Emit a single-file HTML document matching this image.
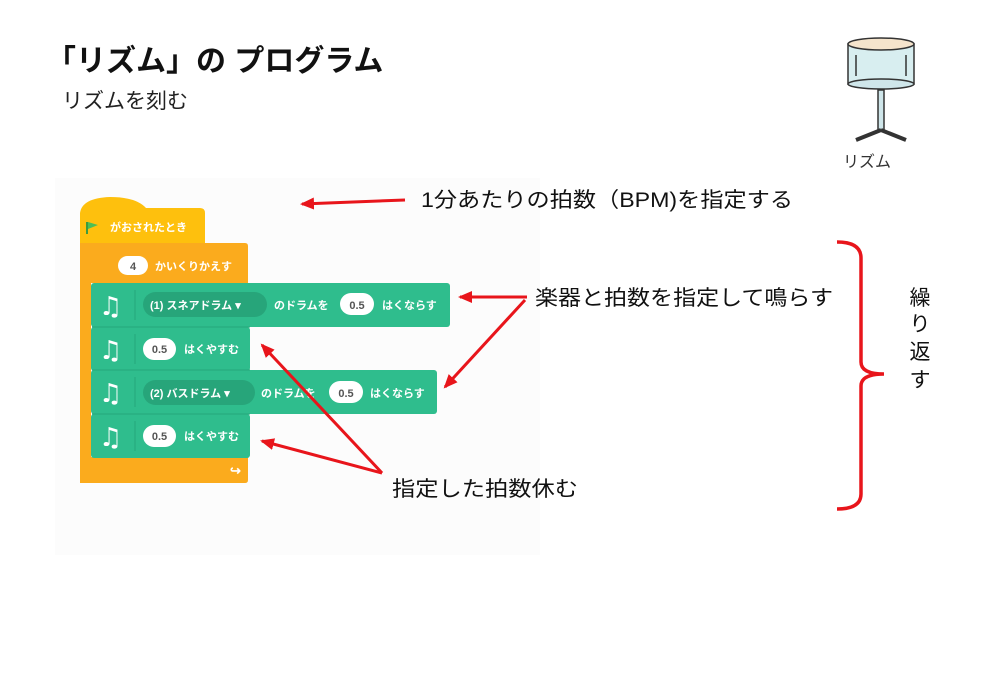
<!DOCTYPE html>
<html><head><meta charset="utf-8"><style>
html,body{margin:0;padding:0;background:#fff;}
svg{display:block;font-family:"Liberation Sans","Noto Sans CJK JP",sans-serif;}
</style></head><body>
<svg width="1000" height="692" viewBox="0 0 1000 692" xmlns="http://www.w3.org/2000/svg">
<defs>
<marker id="ah2" markerWidth="14" markerHeight="12" refX="12" refY="6" orient="auto" markerUnits="userSpaceOnUse">
<path d="M0,0 L14,6 L0,12 Z" fill="#e8151b"/></marker>
</defs>
<rect x="55" y="178" width="485" height="377" fill="#fcfcfc"/>
<text x="46" y="71" font-size="30" font-weight="bold" fill="#111">「リズム」の プログラム</text>
<text x="62" y="108" font-size="21" fill="#222">リズムを刻む</text>

<!-- drum -->
<g stroke="#333" stroke-width="1.5">
<rect x="848" y="44" width="66" height="40" fill="#d8eef0"/>
<ellipse cx="881" cy="44" rx="33" ry="6" fill="#f5e4cc"/>
<ellipse cx="881" cy="84" rx="33" ry="5" fill="#cfe6ea"/>
<line x1="856" y1="55" x2="856" y2="76"/><line x1="906" y1="55" x2="906" y2="76"/>
<rect x="878" y="90" width="6" height="40" fill="#cfe6ea"/>
<path d="M881,130 L856,140 M881,130 L906,140" stroke-width="4"/>
</g>
<text x="843" y="167" font-size="16" fill="#333">リズム</text>

<!-- hat block -->
<path d="M80,213 Q82,198 110,197 Q136,197 146,208 L200,208 Q205,208 205,213 L205,243 L80,243 Z" fill="#fec00d"/>
<path d="M87,222 L87,234" stroke="#3d9b3f" stroke-width="2"/><path d="M88,222 L98,225 L88,229 Z" fill="#4cbf56"/>
<text x="110" y="231" font-size="11" font-weight="bold" fill="#fff">がおされたとき</text>
<!-- C block -->
<path d="M80,243 L245,243 Q248,243 248,246 L248,283 L91,283 L91,457 L248,457 L248,480 Q248,483 245,483 L80,483 Z" fill="#fbab1d"/>
<rect x="118" y="256" width="30" height="19" rx="9.5" fill="#fff"/>
<text x="133" y="270" font-size="11" font-weight="bold" fill="#555" text-anchor="middle">4</text>
<text x="155" y="270" font-size="11" font-weight="bold" fill="#fff">かいくりかえす</text>
<text x="230" y="475" font-size="13" font-weight="bold" fill="#fff">↪</text>

<!-- green blocks -->
<g fill="#2fbd8d">
<rect x="91" y="283" width="359" height="44" rx="3"/>
<rect x="91" y="327" width="159" height="44" rx="3"/>
<rect x="91" y="370" width="346" height="44" rx="3"/>
<rect x="91" y="414" width="159" height="44" rx="3"/>
</g>
<g stroke="#26a87b" stroke-width="1"><line x1="92" y1="327" x2="250" y2="327"/><line x1="92" y1="370" x2="250" y2="370"/><line x1="92" y1="414" x2="250" y2="414"/>
<line x1="135" y1="290" x2="135" y2="320"/><line x1="135" y1="334" x2="135" y2="364"/><line x1="135" y1="377" x2="135" y2="407"/><line x1="135" y1="421" x2="135" y2="451"/></g>
<g fill="#fff" font-size="26" font-weight="bold" font-family="DejaVu Sans, sans-serif">
<text x="99" y="315">♫</text><text x="99" y="359">♫</text><text x="99" y="402">♫</text><text x="99" y="446">♫</text>
</g>
<rect x="143" y="292" width="124" height="25" rx="12.5" fill="#27a57a"/>
<text x="150" y="309" font-size="11" font-weight="bold" fill="#fff">(1) スネアドラム ▾</text>
<text x="274" y="309" font-size="11" font-weight="bold" fill="#fff">のドラムを</text>
<rect x="340" y="293" width="34" height="22" rx="11" fill="#fff"/>
<text x="357" y="309" font-size="11" font-weight="bold" fill="#555" text-anchor="middle">0.5</text>
<text x="382" y="309" font-size="11" font-weight="bold" fill="#fff">はくならす</text>

<rect x="143" y="338" width="33" height="22" rx="11" fill="#fff"/>
<text x="159.5" y="353" font-size="11" font-weight="bold" fill="#555" text-anchor="middle">0.5</text>
<text x="184" y="353" font-size="11" font-weight="bold" fill="#fff">はくやすむ</text>

<rect x="143" y="380" width="112" height="25" rx="12.5" fill="#27a57a"/>
<text x="150" y="397" font-size="11" font-weight="bold" fill="#fff">(2) バスドラム ▾</text>
<text x="261" y="397" font-size="11" font-weight="bold" fill="#fff">のドラムを</text>
<rect x="329" y="381" width="34" height="22" rx="11" fill="#fff"/>
<text x="346" y="397" font-size="11" font-weight="bold" fill="#555" text-anchor="middle">0.5</text>
<text x="370" y="397" font-size="11" font-weight="bold" fill="#fff">はくならす</text>

<rect x="143" y="425" width="33" height="22" rx="11" fill="#fff"/>
<text x="159.5" y="440" font-size="11" font-weight="bold" fill="#555" text-anchor="middle">0.5</text>
<text x="184" y="440" font-size="11" font-weight="bold" fill="#fff">はくやすむ</text>

<!-- arrows -->
<g stroke="#e8151b" stroke-width="3" fill="none">
<line x1="405" y1="200" x2="302" y2="204" marker-end="url(#ah2)"/>
<line x1="527" y1="297" x2="460" y2="297" marker-end="url(#ah2)"/>
<line x1="525" y1="300" x2="445" y2="387" marker-end="url(#ah2)"/>
<line x1="382" y1="473" x2="262" y2="345" marker-end="url(#ah2)"/>
<line x1="382" y1="473" x2="262" y2="441" marker-end="url(#ah2)"/>
<path d="M837,242 Q861,242 861,258 L861,362 Q861,374 884,374 Q861,374 861,386 L861,494 Q861,509 837,509" stroke-width="3.5"/>
</g>

<text x="421" y="207" font-size="21" fill="#111" textLength="372" lengthAdjust="spacingAndGlyphs">1分あたりの拍数（BPM)を指定する</text>
<text x="535" y="305" font-size="21" fill="#111" textLength="298" lengthAdjust="spacingAndGlyphs">楽器と拍数を指定して鳴らす</text>
<text x="392" y="496" font-size="21" fill="#111" textLength="186" lengthAdjust="spacingAndGlyphs">指定した拍数休む</text>
<g font-size="21" fill="#111" text-anchor="middle">
<text x="920" y="305">繰</text><text x="920" y="331">り</text><text x="920" y="359">返</text><text x="920" y="387">す</text>
</g>
</svg>
</body></html>
